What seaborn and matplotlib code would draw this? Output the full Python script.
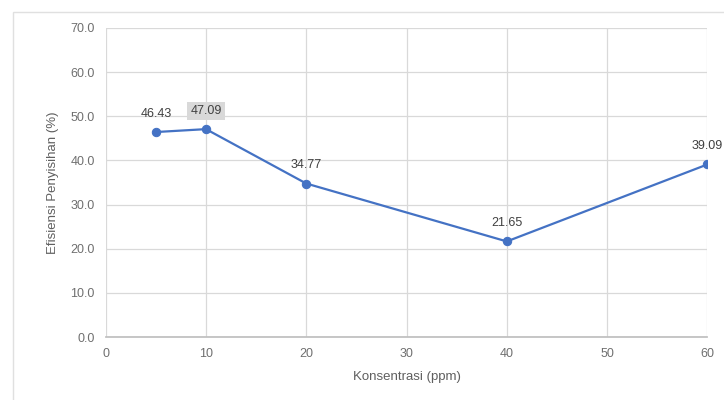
import matplotlib
matplotlib.use("Agg")
import matplotlib.pyplot as plt
import seaborn as sns
import pandas as pd
from matplotlib.patches import Rectangle

konsentrasi = [5, 10, 20, 40, 60]
efisiensi = [46.43, 47.09, 34.77, 21.65, 39.09]
x_ticks = [0, 10, 20, 30, 40, 50, 60]
y_ticks = [0, 10, 20, 30, 40, 50, 60, 70]

sns.set_theme(style="white")
plt.rcParams["font.family"] = ["Liberation Sans", "DejaVu Sans"]

df = pd.DataFrame({"Konsentrasi": konsentrasi, "Efisiensi": efisiensi})

fig = plt.figure(figsize=(7.24, 4.0), dpi=100)
ax = fig.add_axes([0.146, 0.1575, 0.831, 0.7725])

# outer chart border
fig.patches.append(Rectangle((0.018, -0.01), 1.0, 0.98, transform=fig.transFigure,
                             fill=False, edgecolor="#e0e0e0", linewidth=1.0))

sns.lineplot(data=df, x="Konsentrasi", y="Efisiensi", ax=ax, color="#4472C4",
             linewidth=1.6, marker="o", markersize=6, markeredgecolor="#4472C4")

ax.set_xlim(0, 60)
ax.set_ylim(0, 70)
ax.set_xticks(x_ticks)
ax.set_yticks(y_ticks)
ax.set_xticklabels([str(v) for v in x_ticks])
ax.set_yticklabels([f"{v:.1f}" for v in y_ticks])
ax.grid(True, color="#d9d9d9", linewidth=0.9)
ax.set_axisbelow(True)
for s in ["top", "right", "left"]:
    ax.spines[s].set_visible(False)
ax.spines["bottom"].set_color("#bfbfbf")
ax.tick_params(axis="both", colors="#6f6f6f", labelsize=9, length=0, pad=8)

ax.set_xlabel("Konsentrasi (ppm)", fontsize=9.5, color="#5f5f5f", labelpad=8)
ax.set_ylabel("Efisiensi Penyisihan (%)", fontsize=9.5, color="#5f5f5f", labelpad=8)

for i, (xv, yv) in enumerate(zip(konsentrasi, efisiensi)):
    bbox = None
    if i == 1:
        bbox = dict(boxstyle="square,pad=0.25", facecolor="#d9d9d9", edgecolor="none")
    ax.annotate(f"{yv:.2f}", (xv, yv), xytext=(0, 9), textcoords="offset points",
                ha="center", va="bottom", fontsize=9, color="#404040", bbox=bbox,
                annotation_clip=False)

fig.savefig("out.png", dpi=100)
